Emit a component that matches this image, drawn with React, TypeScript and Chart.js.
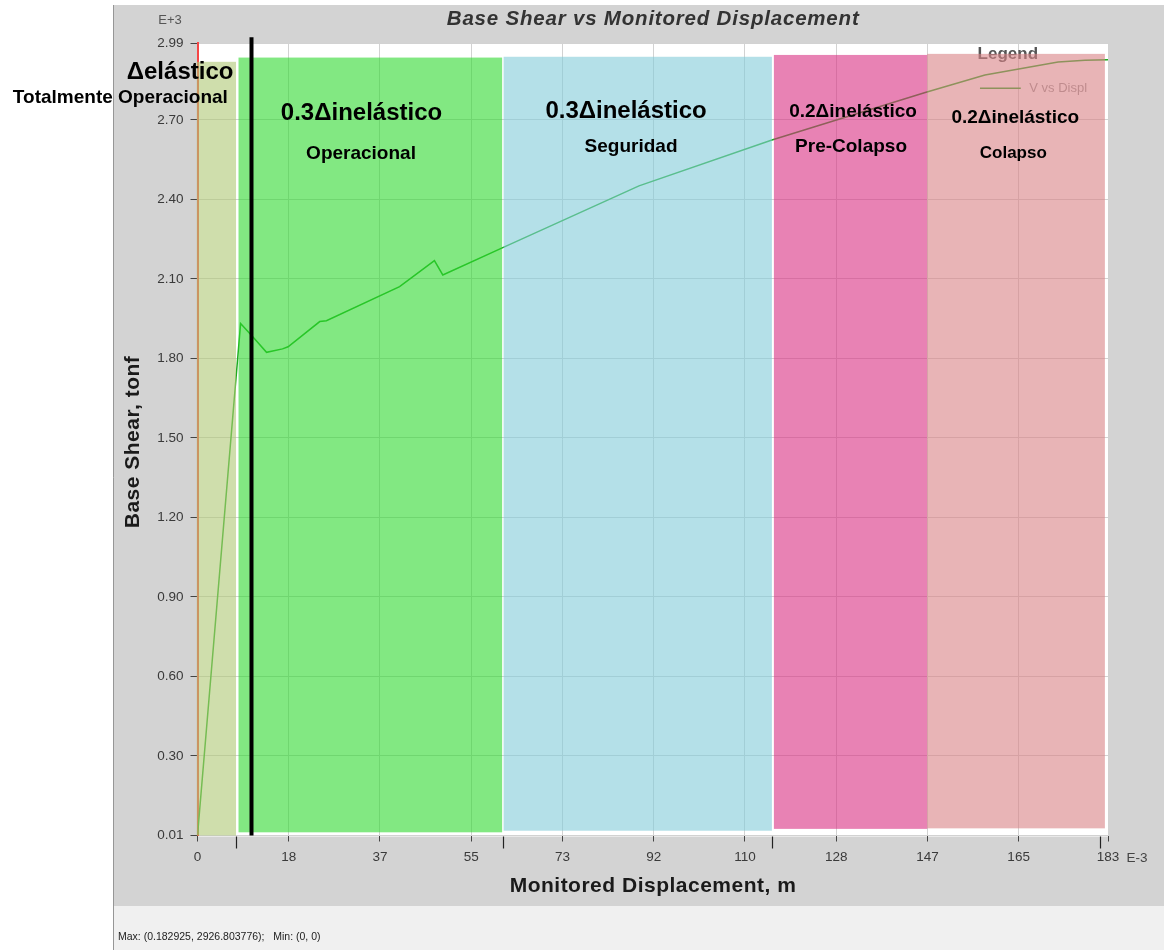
import React, { useEffect, useRef } from "react";
import { Chart, registerables } from "chart.js";

Chart.register(...registerables);

// ---------- data ----------
const displacementMm = [0, 8.66, 11.19, 13.87, 17.08, 18.2, 24.56, 25.9, 40.6, 47.6, 49.28, 61.0, 88.7, 115.4, 146.2, 158.2, 172.9, 178.3, 182.925];
const baseShearTonf = [0, 1932, 1880, 1823, 1836, 1844, 1939, 1942, 2071, 2169, 2115, 2215, 2451, 2624, 2803, 2869, 2918, 2925, 2926.8];

const xTickValues = [0, 18.33, 36.66, 54.99, 73.32, 91.65, 109.98, 128.31, 146.64, 164.97, 182.925];
const xTickLabels = ["0", "18", "37", "55", "73", "92", "110", "128", "147", "165", "183"];
const yTickValues = [0, 300, 600, 900, 1200, 1500, 1800, 2100, 2400, 2700, 2990];
const yTickLabels = ["0.01", "0.30", "0.60", "0.90", "1.20", "1.50", "1.80", "2.10", "2.40", "2.70", "2.99"];

// performance zones (displacement in mm, shear in tonf)
const zoneStartMm = [-0.15, 8.24, 61.5, 115.8, 146.6];
const zoneEndMm = [7.74, 61.2, 115.4, 146.6, 182.3];
const zoneTopTonf = [2919, 2935, 2938, 2945, 2949];
const zoneBottomTonf = [0, 12, 18, 25, 27];
const zoneTitles = ["Δelástico", "0.3Δinelástico", "0.3Δinelástico", "0.2Δinelástico", "0.2Δinelástico"];
const zoneSubtitles = ["Totalmente Operacional", "Operacional", "Seguridad", "Pre-Colapso", "Colapso"];
const boundaryTickMm = [7.74, 61.38, 115.4, 181.3];
const limitLineMm = 10.85;

// ---------- styles / layout ----------
const FONT = 'Arial, "Liberation Sans", Helvetica, sans-serif';
const zoneColors = [
  "rgba(175,200,117,0.6)",
  "rgba(47,217,47,0.6)",
  "rgba(130,203,217,0.6)",
  "rgba(217,47,130,0.6)",
  "rgba(217,130,133,0.6)",
];
const zoneLabelLayout = [
  { tx: -3.5, ty: 2880, ts: 24, sx: -15.5, sy: 2782, ss: 19 },
  { tx: 32.95, ty: 2726, ts: 24, sx: 32.85, sy: 2571, ss: 19 },
  { tx: 86.1, ty: 2733, ts: 24, sx: 87.1, sy: 2597, ss: 19 },
  { tx: 131.7, ty: 2729, ts: 19, sx: 131.3, sy: 2597, ss: 19 },
  { tx: 164.3, ty: 2707, ts: 19, sx: 163.9, sy: 2575, ss: 17 },
];
const legendLayout = { titleX: 162.8, titleY: 2946, lineX1: 157.2, lineX2: 165.4, lineY: 2819, textX: 167.1 };
const GRID = "rgb(210,210,210)";
const LINE = "rgb(30,170,30)";

function drawText(
  ctx: CanvasRenderingContext2D,
  text: string,
  x: number,
  y: number,
  font: string,
  color: string,
  align: CanvasTextAlign = "center",
  spacing = 0
) {
  ctx.save();
  ctx.font = font;
  ctx.fillStyle = color;
  ctx.textAlign = align;
  ctx.textBaseline = "middle";
  (ctx as any).letterSpacing = spacing + "px";
  ctx.fillText(text, x + (align === "center" ? spacing / 2 : 0), y);
  ctx.restore();
}

const decorPlugin = {
  id: "decor",
  beforeDraw(chart: any) {
    const { ctx, chartArea } = chart;
    const W = chart.width;
    const H = chart.height;
    ctx.save();
    ctx.fillStyle = "#ffffff";
    ctx.fillRect(0, 0, W, H);
    ctx.fillStyle = "rgb(211,211,211)";
    ctx.fillRect(113, 5, W - 113, 901);
    ctx.fillStyle = "rgb(240,240,240)";
    ctx.fillRect(113, 906, W - 113, H - 906);
    ctx.strokeStyle = "rgb(150,150,150)";
    ctx.lineWidth = 1;
    ctx.beginPath();
    ctx.moveTo(113.5, 5);
    ctx.lineTo(113.5, H);
    ctx.stroke();
    ctx.fillStyle = "#ffffff";
    ctx.fillRect(chartArea.left, chartArea.top, chartArea.right - chartArea.left, chartArea.bottom - chartArea.top + 1);
    ctx.restore();
  },
  afterDatasetsDraw(chart: any) {
    const { ctx, scales } = chart;
    const xs = scales.x;
    const ys = scales.y;
    // legend (under the overlay)
    drawText(ctx, "Legend", xs.getPixelForValue(legendLayout.titleX), ys.getPixelForValue(legendLayout.titleY), `bold 17px ${FONT}`, "#555555");
    ctx.save();
    ctx.strokeStyle = LINE;
    ctx.lineWidth = 1.5;
    ctx.beginPath();
    ctx.moveTo(xs.getPixelForValue(legendLayout.lineX1), ys.getPixelForValue(legendLayout.lineY));
    ctx.lineTo(xs.getPixelForValue(legendLayout.lineX2), ys.getPixelForValue(legendLayout.lineY));
    ctx.stroke();
    ctx.restore();
    drawText(ctx, "V vs Displ", xs.getPixelForValue(legendLayout.textX), ys.getPixelForValue(legendLayout.lineY), `13px ${FONT}`, "#9a9a9a", "left");

    // zone overlays
    ctx.save();
    zoneStartMm.forEach((s, i) => {
      const x1 = xs.getPixelForValue(s);
      const x2 = xs.getPixelForValue(zoneEndMm[i]);
      const y1 = ys.getPixelForValue(zoneTopTonf[i]);
      const y2 = ys.getPixelForValue(zoneBottomTonf[i]);
      ctx.fillStyle = zoneColors[i];
      ctx.fillRect(x1, y1, x2 - x1, y2 - y1);
    });
    ctx.restore();

    // limit line
    ctx.save();
    ctx.strokeStyle = "#000000";
    ctx.lineWidth = 4;
    ctx.beginPath();
    const lx = xs.getPixelForValue(limitLineMm);
    ctx.moveTo(lx, ys.getPixelForValue(3012));
    ctx.lineTo(lx, ys.getPixelForValue(0));
    ctx.stroke();
    ctx.restore();

    // zone labels
    zoneTitles.forEach((t, i) => {
      const L = zoneLabelLayout[i];
      drawText(ctx, t, xs.getPixelForValue(L.tx), ys.getPixelForValue(L.ty), `bold ${L.ts}px ${FONT}`, "#000000");
      drawText(ctx, zoneSubtitles[i], xs.getPixelForValue(L.sx), ys.getPixelForValue(L.sy), `bold ${L.ss}px ${FONT}`, "#000000");
    });

    // boundary ticks on the x axis
    ctx.save();
    ctx.strokeStyle = "#222222";
    ctx.lineWidth = 1.2;
    boundaryTickMm.forEach((b) => {
      const bx = Math.round(xs.getPixelForValue(b)) + 0.5;
      ctx.beginPath();
      ctx.moveTo(bx, xs.top + 1);
      ctx.lineTo(bx, xs.top + 13);
      ctx.stroke();
    });
    ctx.restore();
  },
  afterDraw(chart: any) {
    const { ctx, chartArea } = chart;
    const cx = (chartArea.left + chartArea.right) / 2;
    drawText(ctx, "Base Shear vs Monitored Displacement", cx, 19, `italic bold 20.5px ${FONT}`, "#333333", "center", 0.8);
    drawText(ctx, "E+3", 170, 20, `13px ${FONT}`, "#555555");
    drawText(ctx, "E-3", 1137, 858, `13.5px ${FONT}`, "#444444");
    drawText(ctx, "Monitored Displacement, m", cx, 886, `bold 21px ${FONT}`, "#1a1a1a", "center", 0.5);
    ctx.save();
    ctx.translate(133, (chartArea.top + chartArea.bottom) / 2 + 3);
    ctx.rotate(-Math.PI / 2);
    drawText(ctx, "Base Shear, tonf", 0, 0, `bold 21px ${FONT}`, "#1a1a1a", "center", 0.5);
    ctx.restore();
    drawText(ctx, "Max: (0.182925, 2926.803776);   Min: (0, 0)", 118, 937, `10.5px ${FONT}`, "#222222", "left");
  },
};

export default function App() {
  const ref = useRef<HTMLCanvasElement>(null);
  useEffect(() => {
    const canvas = ref.current;
    if (!canvas) return;
    const chart = new Chart(canvas, {
      type: "line",
      data: {
        datasets: [
          {
            label: "V vs Displ",
            data: displacementMm.map((x, i) => ({ x, y: baseShearTonf[i] })),
            borderColor: LINE,
            borderWidth: 1.5,
            pointRadius: 0,
            tension: 0,
            fill: false,
          },
        ],
      },
      options: {
        responsive: false,
        maintainAspectRatio: false,
        animation: false,
        layout: { padding: { left: 115, top: 43, right: 56, bottom: 44.5 } },
        plugins: { legend: { display: false }, tooltip: { enabled: false }, title: { display: false } },
        scales: {
          x: {
            type: "linear",
            min: 0,
            max: 182.925,
            afterFit: (s: any) => {
              s.height = 70;
            },
            afterBuildTicks: (s: any) => {
              s.ticks = xTickValues.map((v) => ({ value: v }));
            },
            ticks: {
              callback: (_v: any, i: number) => xTickLabels[i],
              autoSkip: false,
              maxRotation: 0,
              color: "#3a3a3a",
              font: { family: FONT, size: 13.5 },
              padding: 8,
            },
            grid: {
              color: (c: any) => (c.index === 0 ? "rgba(0,0,0,0)" : GRID),
              tickColor: "#444444",
              tickLength: 6,
              lineWidth: 1,
            },
            border: { display: false },
          },
          y: {
            type: "linear",
            min: 0,
            max: 2990,
            afterFit: (s: any) => {
              s.width = 82.5;
            },
            afterBuildTicks: (s: any) => {
              s.ticks = yTickValues.map((v) => ({ value: v }));
            },
            ticks: {
              callback: (_v: any, i: number) => yTickLabels[i],
              autoSkip: false,
              color: "#3a3a3a",
              font: { family: FONT, size: 13.5 },
              padding: 7,
            },
            grid: {
              color: GRID,
              tickColor: "#444444",
              tickLength: 7,
              lineWidth: 1,
            },
            border: { display: true, color: "rgb(245,70,70)", width: 2 },
          },
        },
      } as any,
      plugins: [decorPlugin],
    });
    return () => chart.destroy();
  }, []);
  return (
    <div style={{ position: "absolute", left: 0, top: 0, width: 1164, height: 950 }}>
      <canvas ref={ref} width={1164} height={950} style={{ display: "block", width: 1164, height: 950 }} />
    </div>
  );
}
